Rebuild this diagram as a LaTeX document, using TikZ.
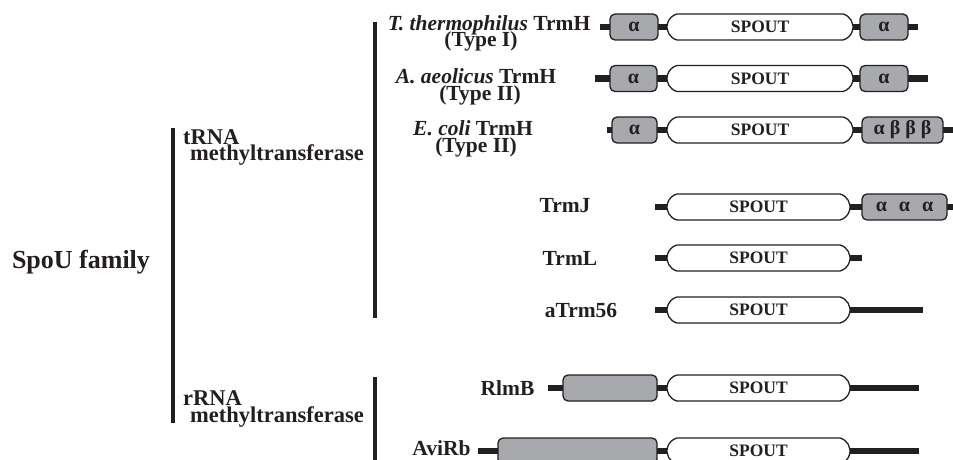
\documentclass[tikz,border=0pt]{standalone}
\usepackage{fontspec}
\setmainfont{Liberation Serif}
\usetikzlibrary{shapes.misc}
\definecolor{ink}{HTML}{231F20}
\definecolor{dom}{HTML}{A7A9AC}
\begin{document}
\begin{tikzpicture}[x=1pt,y=-1pt,
  bar/.style={line width=6.5pt,draw=ink},
  vline/.style={line width=3.5pt,draw=ink},
  spout/.style={rounded rectangle,rounded rectangle arc length=150,draw=ink,line width=1.3pt,fill=white,
     minimum height=26pt,inner sep=0pt,font=\bfseries\fontsize{17.5}{17.5}\selectfont,text=ink},
  greybox/.style={rectangle,rounded corners=5pt,draw=ink,line width=1.3pt,fill=dom,
     minimum height=26pt,inner sep=0pt,font=\bfseries\fontsize{20}{20}\selectfont,text=ink},
  lab/.style={inner sep=0pt,anchor=base,font=\bfseries\fontsize{21.5}{21.5}\selectfont,text=ink},
  cat/.style={inner sep=0pt,anchor=base west,font=\bfseries\fontsize{22.5}{22.5}\selectfont,text=ink},
]
\useasboundingbox (0,0) rectangle (953,460);

% brackets
\coordinate (v1a) at (173,128); \coordinate (v1b) at (173,423);
\coordinate (v2a) at (375,22);  \coordinate (v2b) at (375,318);
\coordinate (v3a) at (375,377); \coordinate (v3b) at (375,460);
\draw[vline] (v1a) -- (v1b);
\draw[vline] (v2a) -- (v2b);
\draw[vline] (v3a) -- (v3b);

\node[inner sep=0pt,font=\bfseries\fontsize{26}{26}\selectfont,text=ink] (spou) at (81,262) {SpoU family};
\node[cat] (trna) at (183,144) {tRNA};
\node[cat] (trnam) at (190,160) {methyltransferase};
\node[cat] (rrna) at (183,405) {rRNA};
\node[cat] (rrnam) at (190,422) {methyltransferase};

% row labels
\node[lab] (l1a) at (489,31) {\textit{T. thermophilus} TrmH};
\node[lab] (l1b) at (481,47) {(Type I)};
\node[lab] (l2a) at (476,83) {\textit{A. aeolicus} TrmH};
\node[lab] (l2b) at (480,100) {(Type II)};
\node[lab] (l3a) at (473,135) {\textit{E. coli} TrmH};
\node[lab] (l3b) at (476,152) {(Type II)};
\node[lab] (l4) at (565,212) {TrmJ};
\node[lab] (l5) at (570,265) {TrmL};
\node[lab] (l6) at (581,317) {aTrm56};
\node[lab] (l7) at (507.5,395) {RlmB};
\node[lab] (l8) at (441.5,455) {AviRb};

% bars
\coordinate (b1s) at (600,27);  \coordinate (b1e) at (918,27);
\coordinate (b2s) at (595,78.5);\coordinate (b2e) at (928,78.5);
\coordinate (b3s) at (607,130); \coordinate (b3e) at (953,130);
\coordinate (b4s) at (655,207); \coordinate (b4e) at (953,207);
\coordinate (b5s) at (655,258); \coordinate (b5e) at (862,258);
\coordinate (b6s) at (655,310); \coordinate (b6e) at (923,310);
\coordinate (b7s) at (548,388); \coordinate (b7e) at (919,388);
\coordinate (b8s) at (478,451); \coordinate (b8e) at (919,451);
\foreach \i in {1,...,8} {\draw[bar] (b\i s) -- (b\i e);}

% row 1
\node[greybox,minimum width=48pt] (a1l) at (634,27) {α};
\node[spout,minimum width=186pt] (s1) at (760,27) {SPOUT};
\node[greybox,minimum width=48pt] (a1r) at (884,27) {α};
% row 2
\node[greybox,minimum width=47pt] (a2l) at (633.5,78.5) {α};
\node[spout,minimum width=186pt] (s2) at (760,78.5) {SPOUT};
\node[greybox,minimum width=48pt] (a2r) at (884,78.5) {α};
% row 3
\node[greybox,minimum width=45pt] (a3l) at (634.5,130) {α};
\node[spout,minimum width=186pt] (s3) at (760,130) {SPOUT};
\node[greybox,minimum width=81pt] (a3r) at (902.5,130) {α β β β};
% row 4
\node[spout,minimum width=183pt] (s4) at (758.5,207) {SPOUT};
\node[greybox,minimum width=85pt] (a4r) at (904.5,207) {α\hspace{0.6em}α\hspace{0.6em}α};
% row 5
\node[spout,minimum width=183pt] (s5) at (758.5,258) {SPOUT};
% row 6
\node[spout,minimum width=183pt] (s6) at (758.5,310) {SPOUT};
% row 7
\node[greybox,minimum width=94pt] (g7) at (610,388) {};
\node[spout,minimum width=183pt] (s7) at (758.5,388) {SPOUT};
% row 8
\node[greybox,minimum width=159pt] (g8) at (577.5,451) {};
\node[spout,minimum width=183pt] (s8) at (758.5,451) {SPOUT};
\end{tikzpicture}
\end{document}
